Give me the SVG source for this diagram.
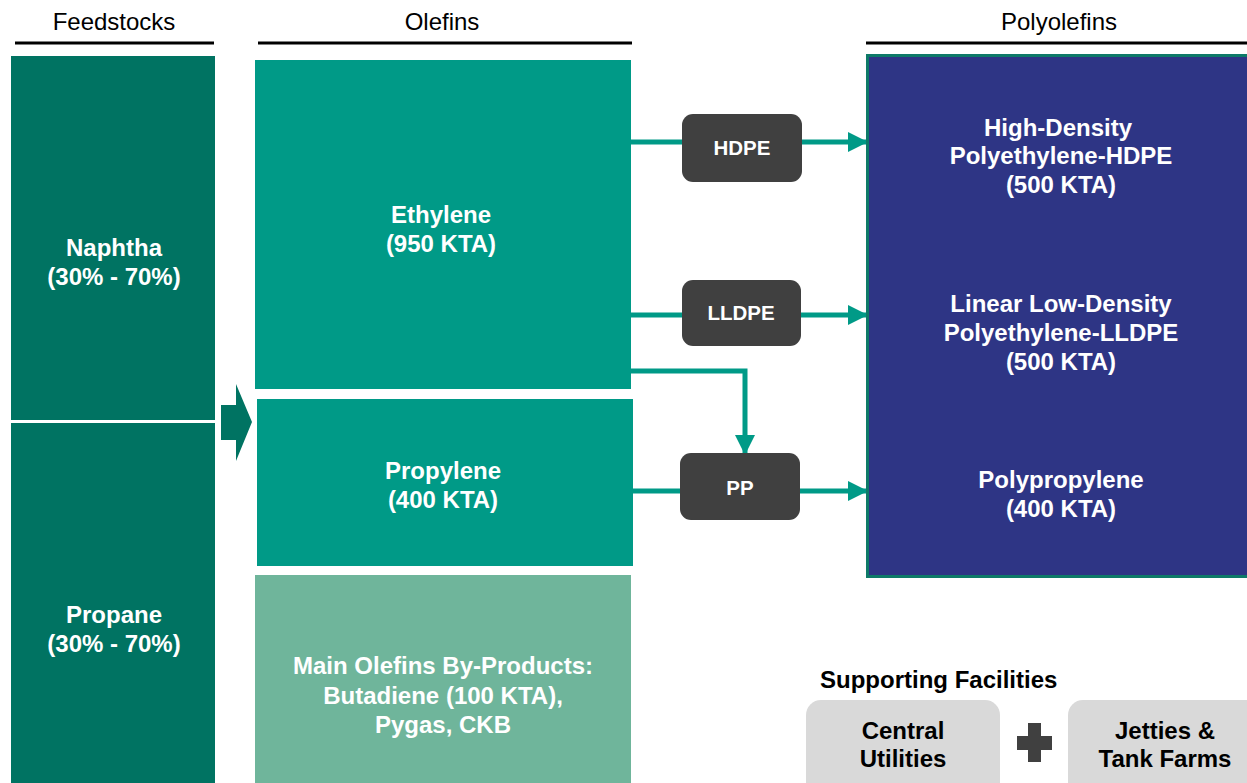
<svg xmlns="http://www.w3.org/2000/svg" width="1247" height="783" viewBox="0 0 1247 783">
  <defs>
    <style>
      .hdr { font-family: "Liberation Sans", Arial, sans-serif; font-size: 24px; fill: #000; text-anchor: middle; }
      .rule { stroke: #000; stroke-width: 3; }
      .lbl { font-family: "Liberation Sans", Arial, sans-serif; font-size: 24px; font-weight: bold; fill: #fff; text-anchor: middle; }
      .unit { font-size: 20.5px; }
      .dark { fill: #000; }
      .feed { fill: #007362; }
      .olef { fill: #009a87; }
      .byp { fill: #6fb59b; }
      .poly { fill: #2e3585; stroke: #0e7a68; stroke-width: 3; }
      .proc { fill: #404040; }
      .supp { fill: #d9d9d9; }
      .flow { fill: none; stroke: #009a87; stroke-width: 5; }
    </style>
    <marker id="arr" viewBox="0 0 10 10" refX="9" refY="5" markerWidth="4" markerHeight="4" markerUnits="strokeWidth" orient="auto">
      <path d="M0,0 L10,5 L0,10 Z" fill="#009a87"/>
    </marker>
  </defs>

  <rect width="1247" height="783" fill="#fff"/>

  <!-- column headers -->
  <g id="headers">
    <text class="hdr" x="114" y="30">Feedstocks</text>
    <line class="rule" x1="15" y1="43" x2="214" y2="43"/>
    <text class="hdr" x="442" y="30">Olefins</text>
    <line class="rule" x1="258" y1="43" x2="632" y2="43"/>
    <text class="hdr" x="1059" y="30">Polyolefins</text>
    <line class="rule" x1="866" y1="43" x2="1247" y2="43"/>
  </g>

  <!-- feedstocks -->
  <g id="naphtha">
    <rect class="feed" x="11" y="56" width="204" height="364"/>
    <text class="lbl" x="114" y="256">Naphtha</text>
    <text class="lbl" x="114" y="285">(30% - 70%)</text>
  </g>
  <g id="propane">
    <rect class="feed" x="11" y="423" width="204" height="360"/>
    <text class="lbl" x="114" y="623">Propane</text>
    <text class="lbl" x="114" y="652">(30% - 70%)</text>
  </g>

  <!-- block arrow feed to olefins -->
  <g id="feed-arrow">
    <path class="feed" d="M221,405 H236 V384 L252,422 L236,461 V440 H221 Z"/>
  </g>

  <!-- olefins -->
  <g id="ethylene">
    <rect class="olef" x="255" y="60" width="376" height="329"/>
    <text class="lbl" x="441" y="223">Ethylene</text>
    <text class="lbl" x="441" y="252">(950 KTA)</text>
  </g>
  <g id="propylene">
    <rect class="olef" x="257" y="399" width="376" height="167"/>
    <text class="lbl" x="443" y="479">Propylene</text>
    <text class="lbl" x="443" y="508">(400 KTA)</text>
  </g>
  <g id="byproducts">
    <rect class="byp" x="255" y="575" width="376" height="208"/>
    <text class="lbl" x="443" y="674">Main Olefins By-Products:</text>
    <text class="lbl" x="443" y="704">Butadiene (100 KTA),</text>
    <text class="lbl" x="443" y="733">Pygas, CKB</text>
  </g>

  <!-- connectors -->
  <g id="connectors">
    <line class="flow" x1="631" y1="142" x2="682" y2="142"/>
    <line class="flow" x1="802" y1="142" x2="866" y2="142" marker-end="url(#arr)"/>
    <line class="flow" x1="631" y1="315" x2="682" y2="315"/>
    <line class="flow" x1="801" y1="315" x2="866" y2="315" marker-end="url(#arr)"/>
    <path class="flow" d="M631,371 H745 V453" marker-end="url(#arr)"/>
    <line class="flow" x1="633" y1="491" x2="680" y2="491"/>
    <line class="flow" x1="800" y1="491" x2="866" y2="491" marker-end="url(#arr)"/>
  </g>

  <!-- polymerisation units -->
  <g id="hdpe">
    <rect class="proc" x="682" y="114" width="120" height="68" rx="11"/>
    <text class="lbl unit" x="742" y="155">HDPE</text>
  </g>
  <g id="lldpe">
    <rect class="proc" x="682" y="280" width="119" height="66" rx="11"/>
    <text class="lbl unit" x="741" y="320">LLDPE</text>
  </g>
  <g id="pp">
    <rect class="proc" x="680" y="453" width="120" height="67" rx="11"/>
    <text class="lbl unit" x="740" y="495">PP</text>
  </g>

  <!-- polyolefins -->
  <g id="polyolefins">
    <rect class="poly" x="867.5" y="55.5" width="385" height="521"/>
    <text class="lbl" x="1058" y="136">High-Density</text>
    <text class="lbl" x="1061" y="164">Polyethylene-HDPE</text>
    <text class="lbl" x="1061" y="193">(500 KTA)</text>
    <text class="lbl" x="1061" y="312">Linear Low-Density</text>
    <text class="lbl" x="1061" y="341">Polyethylene-LLDPE</text>
    <text class="lbl" x="1061" y="370">(500 KTA)</text>
    <text class="lbl" x="1061" y="488">Polypropylene</text>
    <text class="lbl" x="1061" y="517">(400 KTA)</text>
  </g>

  <!-- supporting facilities -->
  <g id="supporting">
    <text class="lbl dark" x="820" y="688" style="text-anchor:start">Supporting Facilities</text>
  </g>
  <g id="central-utilities">
    <rect class="supp" x="806" y="700" width="194" height="100" rx="15"/>
    <text class="lbl dark" x="903" y="739">Central</text>
    <text class="lbl dark" x="903" y="767">Utilities</text>
  </g>
  <g id="plus">
    <path class="proc" d="M1028,723 H1041 V736 H1052 V750 H1041 V762 H1028 V750 H1017 V736 H1028 Z"/>
  </g>
  <g id="jetties">
    <rect class="supp" x="1068" y="700" width="200" height="100" rx="15"/>
    <text class="lbl dark" x="1165" y="739">Jetties &amp;</text>
    <text class="lbl dark" x="1165" y="767">Tank Farms</text>
  </g>
</svg>
